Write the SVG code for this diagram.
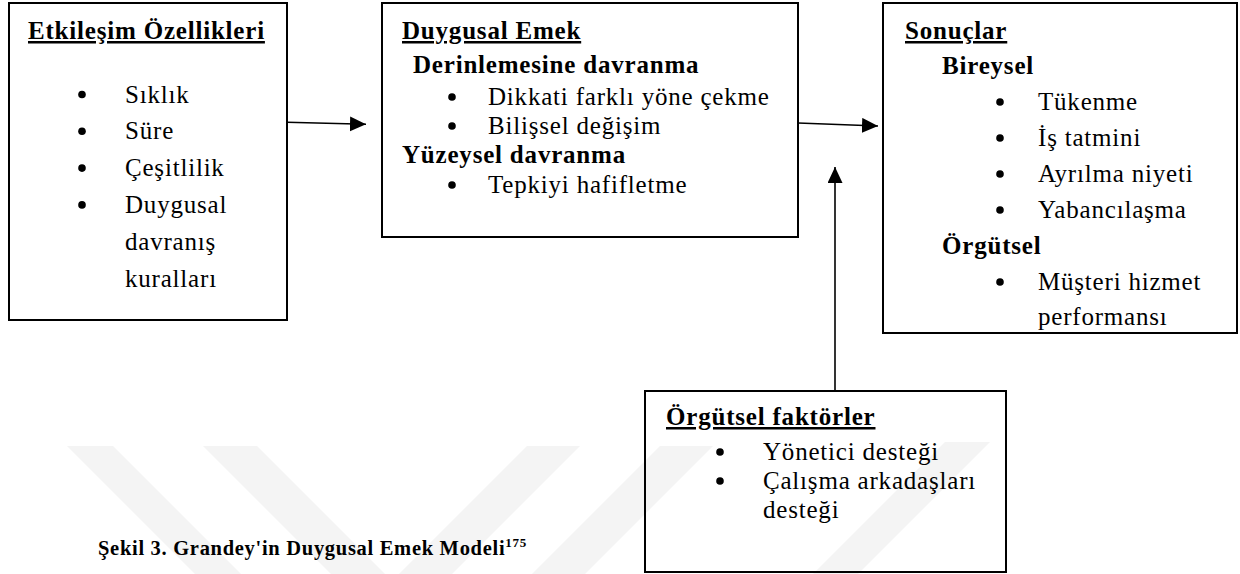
<svg xmlns="http://www.w3.org/2000/svg" width="1240" height="574" viewBox="0 0 1240 574">
<style>
  .b { font-weight: bold; }
  .u { font-weight: bold; text-decoration: underline; }
  .box { fill: none; stroke: #000; stroke-width: 2; }
  .wm { fill: #f4f4f4; }
  .conn { stroke: #000; stroke-width: 1.6; fill: none; }
</style>
<defs>
  <marker id="ah" markerUnits="userSpaceOnUse" markerWidth="17" markerHeight="16" refX="16" refY="7.5" orient="auto">
    <path d="M0,0 L16,7.5 L0,15 z" fill="#000"/>
  </marker>
</defs>
<rect width="1240" height="574" fill="#fff"/>
<g id="watermark">
  <polygon class="wm" points="67,446 113,446 241,574 195,574"/>
  <polygon class="wm" points="203,446 257,446 385,574 331,574"/>
  <polygon class="wm" points="527,446 580,446 452,574 399,574"/>
  <polygon class="wm" points="660,446 713,446 585,574 532,574"/>
  <polygon class="wm" points="945,442 990,442 858,574 813,574"/>
</g>
<g id="connectors">
  <line class="conn" x1="287" y1="122.3" x2="366" y2="124.3" marker-end="url(#ah)"/>
  <line class="conn" x1="798" y1="123" x2="878" y2="126" marker-end="url(#ah)"/>
  <line class="conn" x1="835" y1="391" x2="835" y2="167" marker-end="url(#ah)"/>
</g>
<g id="etkilesim" font-family="Liberation Serif" font-size="25" letter-spacing="0.8">
  <rect class="box" x="9" y="3" width="278" height="317"/>
  <text class="u" x="28" y="39">Etkileşim Özellikleri</text>
  <circle cx="82" cy="94.5" r="3.8"/>
  <text x="125" y="102.5">Sıklık</text>
  <circle cx="82" cy="131.3" r="3.8"/>
  <text x="125" y="139.3">Süre</text>
  <circle cx="82" cy="168.1" r="3.8"/>
  <text x="125" y="176.1">Çeşitlilik</text>
  <circle cx="82" cy="204.9" r="3.8"/>
  <text x="125" y="212.9">Duygusal</text>
  <text x="125" y="249.7">davranış</text>
  <text x="125" y="286.5">kuralları</text>
</g>
<g id="duygusal-emek" font-family="Liberation Serif" font-size="25" letter-spacing="0.8">
  <rect class="box" x="382" y="3" width="416" height="234"/>
  <text class="u" x="402" y="39">Duygusal Emek</text>
  <text class="b" x="413" y="73">Derinlemesine davranma</text>
  <circle cx="452" cy="97" r="3.8"/>
  <text x="488" y="105">Dikkati farklı yöne çekme</text>
  <circle cx="452" cy="126" r="3.8"/>
  <text x="488" y="134">Bilişsel değişim</text>
  <text class="b" x="402" y="163">Yüzeysel davranma</text>
  <circle cx="452" cy="185" r="3.8"/>
  <text x="488" y="193">Tepkiyi hafifletme</text>
</g>
<g id="sonuclar" font-family="Liberation Serif" font-size="25" letter-spacing="0.8">
  <rect class="box" x="883" y="3" width="354" height="330"/>
  <text class="u" x="905" y="39">Sonuçlar</text>
  <text class="b" x="942" y="74">Bireysel</text>
  <circle cx="1000" cy="102" r="3.8"/>
  <text x="1038" y="110">Tükenme</text>
  <circle cx="1000" cy="138" r="3.8"/>
  <text x="1038" y="146">İş tatmini</text>
  <circle cx="1000" cy="174" r="3.8"/>
  <text x="1038" y="182">Ayrılma niyeti</text>
  <circle cx="1000" cy="210" r="3.8"/>
  <text x="1038" y="218">Yabancılaşma</text>
  <text class="b" x="942" y="254">Örgütsel</text>
  <circle cx="1000" cy="282" r="3.8"/>
  <text x="1038" y="290">Müşteri hizmet</text>
  <text x="1038" y="325">performansı</text>
</g>
<g id="orgutsel-faktorler" font-family="Liberation Serif" font-size="25" letter-spacing="0.8">
  <rect class="box" x="645" y="391" width="361" height="181"/>
  <text class="u" x="666" y="425">Örgütsel faktörler</text>
  <circle cx="720" cy="452" r="3.8"/>
  <text x="763" y="460">Yönetici desteği</text>
  <circle cx="720" cy="481" r="3.8"/>
  <text x="763" y="489">Çalışma arkadaşları</text>
  <text x="763" y="518">desteği</text>
</g>
<g id="caption" font-family="Liberation Serif" font-size="20.5" letter-spacing="0.7">
  <text class="b" x="98" y="555">Şekil 3. Grandey'in Duygusal Emek Modeli<tspan font-size="13" dy="-8">175</tspan></text>
</g>
</svg>
